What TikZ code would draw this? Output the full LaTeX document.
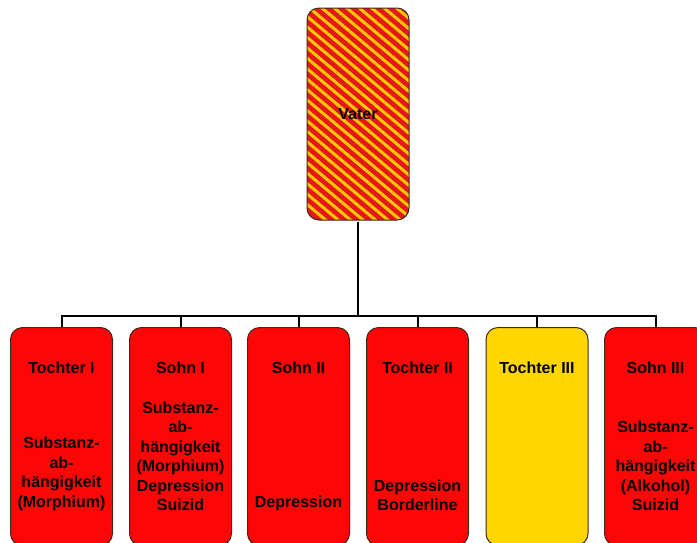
\documentclass[tikz,border=0pt]{standalone}
\usepackage{fontspec}
\setmainfont{Liberation Sans}
\usetikzlibrary{positioning,patterns.meta}
\definecolor{fgRed}{RGB}{255,6,6}
\definecolor{fgDeep}{RGB}{228,24,24}
\definecolor{fgYellow}{RGB}{255,214,0}
\definecolor{fgStripe}{RGB}{255,200,0}
\definecolor{fgEdge}{RGB}{60,40,30}

\begin{document}
\begin{tikzpicture}[x=1pt, y=-1pt,
  font=\bfseries\fontsize{16}{19.5}\selectfont,
  person/.style={draw=fgEdge, line width=1pt, rounded corners=12pt, minimum width=102pt, inner sep=0pt},
  link/.style={line width=2pt, black}]
\clip (0,0) rectangle (697,542);

% father
\node[person, minimum height=212pt, preaction={fill=fgDeep},
      pattern={Lines[angle=-40,distance=8pt,line width=3pt]}, pattern color=fgStripe] (vater) at (358,114) {Vater};
\coordinate (bus) at (358,316);
\draw[link] (vater.south) -- (bus);

% children: name / x / title / info / colour
\foreach \n/\x/\t/\i/\c in {
  tochterI/61.5/{Tochter I}/{Substanz-\\ab-\\hängigkeit\\(Morphium)}/fgRed,
  sohnI/180.5/{Sohn I}/{Substanz-\\ab-\\hängigkeit\\(Morphium)\\Depression\\Suizid}/fgRed,
  sohnII/298.5/{Sohn II}/{Depression}/fgRed,
  tochterII/417.5/{Tochter II}/{Depression\\Borderline}/fgRed,
  tochterIII/537/{Tochter III}/{}/fgYellow,
  sohnIII/655.5/{Sohn III}/{Substanz-\\ab-\\hängigkeit\\(Alkohol)\\Suizid}/fgRed}
{
  \node[person, minimum height=218pt, anchor=north, fill=\c] (\n) at (\x,327) {};
  \node (\n-t) at (\x,368) {\t};
  \node[anchor=south, align=center, inner sep=0pt] (\n-i) at (\x,511) {\i};
  \draw[link] (\n.north) |- (bus);
}
\end{tikzpicture}
\end{document}
